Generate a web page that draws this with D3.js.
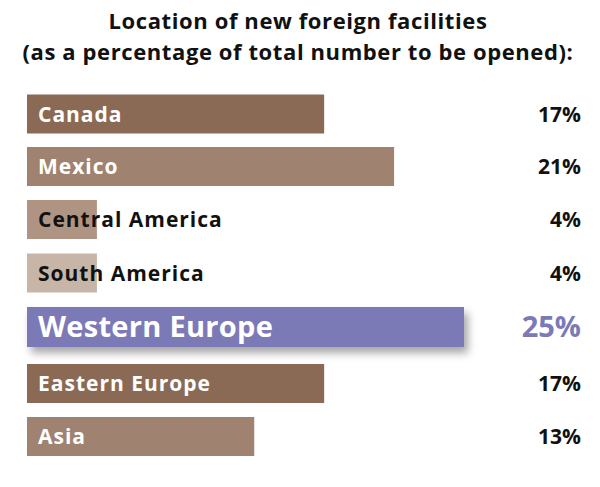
<!DOCTYPE html>
<html><head><meta charset="utf-8">
<script src="https://cdn.jsdelivr.net/npm/d3@7"></script>
<style>body{margin:0;background:#fff}</style></head>
<body><svg id="c" width="600" height="487"></svg>
<script>
const categories=["Canada","Mexico","Central America","South America","Western Europe","Eastern Europe","Asia"];
const values=[17,21,4,4,25,17,13];
const colors=["#8b6a55","#9f8370","#af9483","#c7b5a8","#7b7ab6","#8b6a55","#9f8370"];
const title=["Location of new foreign facilities","(as a percentage of total number to be opened):"];
const svg=d3.select("#c");
const defs=svg.append("defs");
const f=defs.append("filter").attr("id","sh").attr("x","-10%").attr("y","-30%").attr("width","130%").attr("height","180%");
f.append("feDropShadow").attr("dx",4).attr("dy",6).attr("stdDeviation",4).attr("flood-color","#000").attr("flood-opacity",0.35);
svg.selectAll("text.t").data(title).join("text").attr("x",298).attr("y",(d,i)=>29+i*31)
 .attr("text-anchor","middle").attr("font-family","Open Sans, sans-serif").attr("font-weight",700).attr("font-size",22).attr("letter-spacing",0.6).attr("fill","#111").text(d=>d);
const x=d3.scaleLinear().domain([0,25]).range([27,464]);
const centers=[114,166.5,219.5,273,327,383.5,436.5];
const y=d3.scaleOrdinal().domain(categories).range(centers);
const g=svg.selectAll("g.r").data(categories).join("g");
g.append("rect").attr("x",x(0)).attr("y",d=>y(d)-(d==="Western Europe"?20:19.5))
 .attr("height",d=>d==="Western Europe"?40:39).attr("width",(d,i)=>x(values[i])-x(0))
 .attr("fill",(d,i)=>colors[i]).attr("filter",d=>d==="Western Europe"?"url(#sh)":null);
g.append("text").attr("x",38).attr("y",d=>y(d)).attr("dy","0.36em")
 .attr("font-family","Open Sans, sans-serif").attr("font-weight",700)
 .attr("font-size",d=>d==="Western Europe"?29:21).attr("letter-spacing",d=>d==="Western Europe"?0.3:1)
 .attr("fill",(d,i)=>(i===2||i===3)?"#111":"#fff").text(d=>d);
g.append("text").attr("x",581).attr("y",d=>y(d)).attr("dy","0.36em").attr("text-anchor","end")
 .attr("font-family","Open Sans, sans-serif").attr("font-weight",700)
 .attr("font-size",d=>d==="Western Europe"?29:21)
 .attr("fill",d=>d==="Western Europe"?"#7b7ab6":"#111").text((d,i)=>values[i]+"%");
</script></body></html>
